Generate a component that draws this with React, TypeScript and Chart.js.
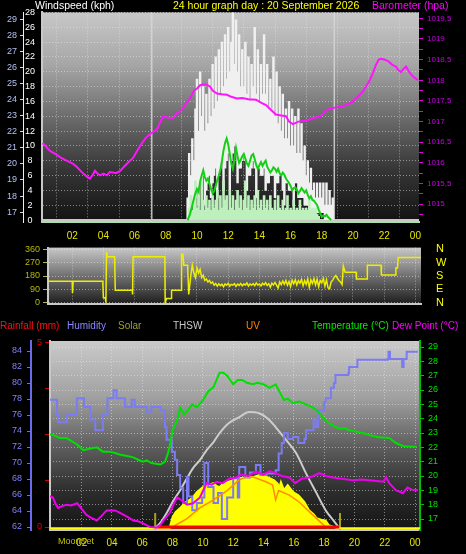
import React, { useEffect, useRef } from 'react';
import { Chart, registerables } from 'chart.js';

Chart.register(...registerables);

const FONT = '"Liberation Sans", Arial, Helvetica, sans-serif';
Chart.defaults.font.family = FONT;
Chart.defaults.font.size = 9;

// ---------------- DATA ----------------
const hourTicks = [2, 4, 6, 8, 10, 12, 14, 16, 18, 20, 22, 24];
const hourLabels = ['02', '04', '06', '08', '10', '12', '14', '16', '18', '20', '22', '00'];

const windTicks = [0, 2, 4, 6, 8, 10, 12, 14, 16, 18, 20, 22, 24, 26, 28];
const tempTicks = [17, 18, 19, 20, 21, 22, 23, 24, 25, 26, 27, 28, 29];
const baroTicks = [1014.75, 1015, 1015.25, 1015.5, 1015.75, 1016, 1016.25, 1016.5, 1016.75, 1017, 1017.25, 1017.5, 1017.75, 1018, 1018.25, 1018.5, 1018.75, 1019, 1019.25, 1019.5];
const baroLabels = ['', '1015', '', '1015,5', '', '1016', '', '1016,5', '', '1017', '', '1017,5', '', '1018', '', '1018,5', '', '1019', '', '1019,5'];
const dirTicks = [0, 90, 180, 270, 360];
const dirCompass = ['N', 'E', 'S', 'W', 'N'];
const humTicks = [62, 64, 66, 68, 70, 72, 74, 76, 78, 80, 82, 84];
const rainTicks = [0, 1.25, 2.5, 3.75, 5];
const rainLabels = ['0', '', '', '', '5'];

const sunLinesTop = [7.1, 18.8];
const sunMarksBottom = [6.85, 19.05];

// [hour, low kph, high kph] – gust range in each sample column
const gustRanges: [number, number, number][] = [
  [9.4, 0, 3], [9.5, 1, 9], [9.6, 2, 6], [9.7, 2, 11], [9.8, 3, 8], [9.9, 3, 15], [10.0, 4, 19], [10.1, 2, 12], [10.2, 5, 20], [10.3, 5, 14],
  [10.4, 6, 18], [10.5, 2, 12], [10.6, 4, 17], [10.7, 5, 13], [10.8, 6, 19], [10.9, 3, 14], [11.0, 5, 21], [11.1, 6, 15], [11.2, 7, 22], [11.3, 3, 16],
  [11.4, 6, 23], [11.5, 7, 17], [11.6, 8, 24], [11.7, 4, 18], [11.8, 7, 25], [11.9, 8, 19], [12.0, 9, 26], [12.1, 4, 20], [12.2, 8, 24], [12.3, 9, 28],
  [12.4, 10, 21], [12.5, 9, 27], [12.6, 5, 20], [12.7, 7, 25], [12.8, 7, 18], [12.9, 8, 23], [13.0, 9, 18], [13.1, 8, 24], [13.2, 4, 17], [13.3, 6, 22],
  [13.4, 6, 16], [13.5, 7, 21], [13.6, 8, 18], [13.7, 7, 26], [13.8, 3, 17], [13.9, 7, 23], [14.0, 7, 16], [14.1, 6, 21], [14.2, 6, 17], [14.3, 7, 25],
  [14.4, 4, 17], [14.5, 5, 21], [14.6, 5, 15], [14.7, 6, 19], [14.8, 6, 15], [14.9, 6, 22], [15.0, 3, 14], [15.1, 5, 20], [15.2, 5, 13], [15.3, 6, 18],
  [15.4, 6, 12], [15.5, 4, 17], [15.6, 2, 11], [15.7, 5, 15], [15.8, 5, 11], [15.9, 4, 16], [16.0, 4, 10], [16.1, 4, 15], [16.2, 2, 10], [16.3, 5, 14],
  [16.4, 5, 9], [16.5, 3, 15], [16.6, 3, 9], [16.7, 3, 13], [16.8, 3, 8], [16.9, 2, 10], [17.0, 2, 6], [17.1, 2, 8], [17.2, 1, 5], [17.3, 1, 7],
  [17.4, 1, 4], [17.5, 1, 5], [17.6, 1, 3], [17.7, 1, 5], [17.8, 1, 3], [17.9, 1, 5], [18.0, 1, 3], [18.1, 1, 5], [18.2, 0, 2], [18.3, 0, 5],
  [18.4, 0, 2], [18.5, 0, 4], [18.6, 0, 2], [18.7, 0, 3],
];

const windSpeedSeries: [number, number][] = [
  [9.5, 1.6], [9.6, 3.3], [9.7, 1.3], [9.8, 2.7], [9.9, 5.3], [10.0, 1.6], [10.1, 3.3], [10.2, 1.3], [10.3, 5.3], [10.4, 2.7],
  [10.5, 1.3], [10.6, 3.3], [10.7, 1.6], [10.8, 2.7], [10.9, 1.3], [11.0, 3.3], [11.1, 1.6], [11.2, 2.7], [11.3, 4.0], [11.4, 1.3],
  [11.5, 3.3], [11.6, 1.6], [11.7, 5.3], [11.8, 2.7], [11.9, 3.3], [12.0, 1.3], [12.1, 4.0], [12.2, 1.6], [12.3, 3.3], [12.4, 1.3],
  [12.5, 2.7], [12.6, 4.0], [12.7, 1.6], [12.8, 3.3], [12.9, 1.3], [13.0, 2.7], [13.1, 5.3], [13.2, 1.6], [13.3, 3.3], [13.4, 1.3],
  [13.5, 2.7], [13.6, 1.6], [13.7, 3.3], [13.8, 1.3], [13.9, 4.0], [14.0, 1.6], [14.1, 2.7], [14.2, 1.3], [14.3, 3.3], [14.4, 1.6],
  [14.5, 2.7], [14.6, 1.3], [14.7, 3.3], [14.8, 1.6], [14.9, 1.3], [15.0, 2.7], [15.1, 1.3], [15.2, 3.3], [15.3, 1.6], [15.4, 1.3],
  [15.5, 2.7], [15.6, 1.3], [15.7, 1.6], [15.8, 3.3], [15.9, 1.3], [16.0, 1.6], [16.1, 1.3], [16.2, 2.7], [16.3, 1.3], [16.4, 1.6],
  [16.5, 1.3], [16.6, 2.7], [16.7, 1.3], [16.8, 1.6], [16.9, 1.3], [17.0, 1.6], [17.1, 1.3], [17.2, 2.7], [17.3, 1.3], [17.4, 1.6],
  [17.5, 1.3], [17.6, 1.6], [17.7, 0.8], [17.8, 0.5],
];

const avgWindSeries: [number, number][] = [
  [9.4, 0], [9.55, 0.8], [9.7, 2.0], [9.85, 3.3], [10.0, 4.2], [10.1, 3.8], [10.2, 5.2], [10.3, 6.0], [10.4, 6.7], [10.5, 5.8],
  [10.6, 5.3], [10.7, 5.6], [10.8, 4.9], [10.9, 4.2], [11.0, 3.6], [11.1, 3.9], [11.2, 4.6], [11.3, 5.4], [11.4, 6.0], [11.5, 6.8],
  [11.6, 8.0], [11.7, 9.4], [11.8, 10.4], [11.9, 11.0], [12.0, 10.2], [12.1, 8.9], [12.2, 7.6], [12.3, 6.9], [12.4, 8.2], [12.5, 9.7],
  [12.6, 8.6], [12.7, 7.7], [12.8, 8.1], [12.9, 8.6], [13.0, 8.9], [13.1, 8.3], [13.2, 7.6], [13.3, 7.3], [13.4, 8.0], [13.5, 8.7],
  [13.6, 8.9], [13.7, 8.2], [13.8, 7.4], [13.9, 6.9], [14.0, 7.4], [14.1, 7.8], [14.2, 7.3], [14.3, 7.7], [14.4, 8.0], [14.5, 7.2],
  [14.6, 6.8], [14.7, 6.4], [14.8, 6.7], [14.9, 7.1], [15.0, 6.9], [15.1, 6.5], [15.2, 6.9], [15.3, 6.3], [15.4, 6.0], [15.5, 6.4],
  [15.6, 6.1], [15.7, 5.6], [15.8, 5.3], [15.9, 5.0], [16.0, 4.6], [16.1, 4.0], [16.2, 4.3], [16.3, 4.4], [16.4, 4.1], [16.5, 3.6],
  [16.6, 3.9], [16.7, 4.3], [16.8, 4.0], [16.9, 3.7], [17.0, 4.0], [17.1, 3.4], [17.2, 2.9], [17.3, 3.2], [17.4, 2.7], [17.5, 2.6],
  [17.6, 2.3], [17.7, 2.0], [17.8, 1.4], [17.9, 0.9], [18.0, 0.4], [18.1, 0.6], [18.2, 0.5], [18.3, 0.7], [18.4, 0.4], [18.5, 0.2],
  [18.6, 0],
];

// [hour, hPa]
const baroSeries: [number, number][] = [
  [0.1, 1016.48], [0.26, 1016.42], [0.58, 1016.29], [1.0, 1016.2], [1.3, 1016.12], [1.67, 1016.05], [2.05, 1015.98], [2.3, 1015.9],
  [2.63, 1015.77], [2.9, 1015.68], [3.14, 1015.62], [3.3, 1015.7], [3.46, 1015.81], [3.6, 1015.75], [3.78, 1015.7], [4.0, 1015.74],
  [4.23, 1015.7], [4.4, 1015.78], [4.62, 1015.77], [4.8, 1015.75], [5.06, 1015.8], [5.3, 1015.9], [5.51, 1015.98], [5.7, 1016.05],
  [5.9, 1016.12], [6.1, 1016.25], [6.35, 1016.41], [6.7, 1016.6], [6.99, 1016.7], [7.2, 1016.75], [7.44, 1016.82], [7.6, 1016.95],
  [7.82, 1017.13], [8.1, 1017.1], [8.46, 1017.08], [8.7, 1017.2], [8.91, 1017.25], [9.1, 1017.32], [9.3, 1017.45], [9.55, 1017.56],
  [9.8, 1017.75], [10.0, 1017.8], [10.2, 1017.88], [10.38, 1017.9], [10.6, 1017.9], [10.83, 1017.85], [11.0, 1017.75], [11.28, 1017.68],
  [11.6, 1017.66], [11.92, 1017.65], [12.2, 1017.6], [12.56, 1017.56], [12.9, 1017.57], [13.3, 1017.54], [13.78, 1017.53], [14.1, 1017.46],
  [14.42, 1017.4], [14.7, 1017.3], [15.06, 1017.17], [15.4, 1017.15], [15.7, 1017.13], [15.9, 1017.0], [16.15, 1016.94], [16.5, 1017.0],
  [16.9, 1017.02], [17.2, 1017.05], [17.44, 1017.08], [17.8, 1017.12], [18.0, 1017.15], [18.27, 1017.28], [18.6, 1017.32], [19.0, 1017.35],
  [19.36, 1017.37], [19.7, 1017.43], [20.0, 1017.49], [20.3, 1017.6], [20.64, 1017.73], [21.03, 1017.97], [21.25, 1018.15], [21.47, 1018.37],
  [21.65, 1018.5], [21.8, 1018.52], [22.05, 1018.5], [22.3, 1018.45], [22.5, 1018.38], [22.76, 1018.33], [22.9, 1018.25], [23.08, 1018.2],
  [23.25, 1018.28], [23.4, 1018.33], [23.6, 1018.2], [23.85, 1018.09], [24.17, 1018.0],
];

// [hour, degrees]
const windDirSeries: [number, number][] = [
  [0.45, 144], [2.0, 144], [2.02, 66], [2.06, 144], [3.96, 144], [4.0, 34], [4.12, 34], [4.16, 0], [4.2, 341], [4.25, 309],
  [4.72, 309], [4.76, 84], [5.85, 84], [5.87, 56], [5.9, 309], [7.94, 309], [7.96, 0], [8.05, 28], [8.35, 28], [8.37, 84],
  [8.98, 84], [9.01, 326], [9.1, 326], [9.15, 253], [9.4, 253], [9.47, 56], [9.6, 180], [9.7, 253], [9.8, 200], [9.9, 169],
  [10.0, 234], [10.1, 200], [10.2, 225], [10.3, 169], [10.4, 185], [10.5, 150], [10.6, 160], [10.7, 140], [10.8, 150], [10.9, 131],
  [11.0, 140], [11.1, 118], [11.2, 130], [11.3, 112], [11.4, 128], [11.5, 115], [11.6, 125], [11.7, 108], [11.8, 127], [11.9, 118],
  [12.0, 131], [12.1, 112], [12.2, 124], [12.3, 119], [12.4, 128], [12.5, 110], [12.6, 125], [12.7, 117], [12.8, 130], [12.9, 114],
  [13.0, 126], [13.1, 120], [13.2, 133], [13.3, 112], [13.4, 127], [13.5, 118], [13.6, 129], [13.7, 115], [13.8, 134], [13.9, 119],
  [14.0, 126], [14.1, 113], [14.2, 131], [14.3, 121], [14.4, 135], [14.5, 116], [14.6, 129], [14.7, 104], [14.8, 132], [14.9, 120],
  [15.0, 137], [15.1, 118], [15.2, 99], [15.3, 140], [15.4, 122], [15.5, 146], [15.6, 125], [15.7, 150], [15.8, 118], [15.9, 143],
  [16.0, 108], [16.1, 152], [16.2, 128], [16.3, 155], [16.4, 120], [16.5, 148], [16.6, 132], [16.7, 157], [16.8, 115], [16.9, 150],
  [17.0, 125], [17.1, 160], [17.2, 104], [17.3, 155], [17.4, 130], [17.5, 162], [17.6, 120], [17.7, 158], [17.8, 108], [17.9, 150],
  [18.0, 135], [18.1, 163], [18.2, 112], [18.3, 155], [18.4, 100], [18.5, 94], [18.6, 140], [18.7, 152], [18.8, 172], [18.9, 183],
  [19.0, 165], [19.1, 150], [19.2, 140], [19.3, 122], [19.38, 247], [19.5, 206], [20.2, 206], [20.22, 160], [20.9, 160], [20.92, 253],
  [21.8, 253], [21.82, 186], [22.7, 186], [22.75, 234], [22.85, 234], [22.9, 304], [24.36, 304],
];

// [hour, %]
const humiditySeries: [number, number][] = [
  [-0.09, 77.9], [0.3, 77.9], [0.37, 76], [0.45, 75.1], [1.0, 75.1], [1.02, 76], [1.56, 76], [1.68, 78.1], [2.1, 78.1], [2.15, 77],
  [2.4, 77], [2.55, 75.4], [2.9, 74.1], [3.2, 74.1], [3.4, 76], [3.7, 78.1], [4.1, 79.1], [4.3, 78.1], [4.85, 77], [5.3, 77.9],
  [5.5, 77], [6.05, 77], [6.3, 76.4], [6.6, 77], [7.2, 76.6], [7.4, 76.6], [7.5, 74.5], [7.6, 72.9], [7.95, 71.4], [8.15, 70.4],
  [8.3, 68.5], [8.5, 66.9], [8.7, 65], [8.95, 68.25], [9.05, 65.8], [9.3, 64.1], [9.6, 65], [9.95, 65.7], [10.1, 70], [10.35, 67],
  [10.7, 65], [11.0, 66.25], [11.25, 63], [11.6, 65.7], [12.0, 68.1], [12.3, 65.7], [12.4, 69.5], [12.8, 68.2], [13.1, 68.8], [13.5, 69.75],
  [13.8, 68.5], [14.2, 68.7], [14.8, 69.1], [15.0, 71.2], [15.2, 72.5], [15.35, 73.75], [15.6, 73], [15.95, 73.25], [16.3, 72.5], [16.7, 73],
  [16.8, 74.1], [17.3, 75.4], [17.45, 74.5], [17.6, 76.6], [18.0, 77.6], [18.1, 78.1], [18.45, 79.4], [18.65, 80], [18.75, 81], [19.6, 81.25],
  [19.65, 82], [20.2, 82.9], [22.2, 83], [22.25, 83.9], [22.35, 83], [23.1, 83], [23.15, 82], [23.25, 83], [23.45, 83.9], [24.2, 83.9],
];

// [hour, °C]
const temperatureSeries: [number, number][] = [
  [-0.09, 22.9], [0.1, 22.87], [0.55, 22.66], [1.0, 22.66], [1.3, 22.45], [1.7, 22.2], [2.1, 21.8], [2.5, 21.9], [3.0, 22.0], [3.4, 21.7],
  [3.85, 21.7], [4.2, 21.6], [4.5, 21.5], [5.0, 21.4], [5.4, 21.3], [5.8, 21.1], [6.05, 21.0], [6.3, 21.1], [6.6, 20.9], [7.2, 20.8],
  [7.5, 21.0], [7.7, 21.6], [7.85, 22.3], [8.0, 23.2], [8.3, 23.9], [8.5, 24.76], [8.75, 24.3], [8.95, 24.5], [9.3, 25.0], [9.6, 24.8],
  [10.0, 25.3], [10.35, 25.9], [10.7, 26.2], [10.9, 26.7], [11.1, 27.2], [11.35, 27.2], [11.6, 27.0], [11.8, 26.7], [12.0, 26.4], [12.3, 26.7],
  [12.6, 26.7], [12.9, 26.5], [13.3, 26.4], [13.6, 26.5], [14.0, 26.4], [14.4, 26.15], [14.8, 26.4], [15.1, 25.8], [15.35, 25.3], [15.6, 25.4],
  [15.95, 25.1], [16.35, 25.2], [16.8, 25.0], [17.2, 24.8], [17.5, 24.6], [17.9, 24.1], [18.3, 23.7], [18.8, 23.4], [19.1, 23.3], [19.4, 23.36],
  [19.6, 23.2], [20.1, 23.1], [20.75, 22.95], [21.2, 22.8], [21.6, 22.7], [22.3, 22.66], [22.75, 22.3], [23.2, 22.1], [23.6, 22.05], [24.1, 22.04],
];

const dewPointSeries: [number, number][] = [
  [-0.09, 18.6], [0.1, 18.5], [0.3, 18.0], [0.45, 17.77], [0.7, 17.9], [1.0, 18.0], [1.3, 17.95], [1.7, 18.1], [2.0, 17.7], [2.3, 17.3],
  [2.6, 17.1], [3.0, 16.9], [3.3, 17.2], [3.65, 17.6], [4.2, 17.6], [4.5, 17.45], [4.75, 17.3], [5.1, 17.1], [5.4, 16.9], [5.7, 16.85],
  [6.05, 16.7], [6.5, 16.45], [6.95, 16.4], [7.2, 16.6], [7.4, 16.9], [7.8, 17.4], [8.05, 18.0], [8.3, 18.5], [8.6, 18.3], [8.95, 18.0],
  [9.35, 18.1], [9.8, 18.5], [10.25, 19.5], [10.6, 19.4], [10.9, 19.6], [11.3, 19.5], [11.8, 19.85], [12.2, 19.9], [12.5, 20.1], [13.0, 20.0],
  [13.5, 20.3], [14.0, 20.1], [14.4, 20.35], [14.8, 20.2], [15.2, 20.0], [15.7, 19.9], [16.1, 19.5], [16.5, 19.8], [17.0, 19.9], [17.3, 20.0],
  [17.7, 20.2], [18.1, 20.0], [18.6, 19.9], [19.2, 19.8], [19.9, 19.7], [20.5, 19.75], [21.0, 19.7], [21.5, 19.65], [21.9, 19.6], [22.1, 19.9],
  [22.3, 19.5], [22.75, 19.0], [23.0, 18.9], [23.2, 18.8], [23.5, 19.2], [23.8, 19.05], [24.2, 19.0],
];

// [hour, W/m²]
const solarSeries: [number, number][] = [
  [-0.09, 0], [7.8, 0], [7.9, 30], [8.0, 59], [8.2, 85], [8.5, 107], [8.8, 134], [9.1, 150], [9.3, 160], [9.6, 192],
  [10.0, 219], [10.3, 230], [10.7, 240], [10.9, 225], [11.1, 219], [11.3, 235], [11.6, 246], [12.0, 256], [12.4, 267], [12.8, 270],
  [13.05, 272], [13.4, 275], [13.7, 283], [14.1, 278], [14.4, 267], [14.7, 256], [14.9, 240], [14.95, 192], [15.15, 246], [15.35, 203],
  [15.6, 230], [15.95, 192], [16.3, 176], [16.7, 139], [17.0, 96], [17.3, 75], [17.5, 53], [17.9, 43], [18.1, 40], [18.3, 16],
  [18.6, 8], [18.9, 0], [24.33, 0],
];

const thswSeries: [number, number][] = [
  [6.85, 0], [7.17, 27], [7.6, 80], [8.0, 139], [8.5, 203], [8.95, 267], [9.35, 321], [9.8, 363], [10.25, 417], [10.7, 460],
  [11.1, 508], [11.7, 561], [12.4, 593], [13.05, 620], [13.7, 614], [14.4, 577], [14.8, 540], [15.5, 470], [16.15, 401], [16.8, 294],
  [17.5, 187], [18.1, 96], [18.6, 43], [19.0, 0],
];

const uvSeries: [number, number][] = [
  [7.8, 0], [8.0, 0.05], [8.95, 0.5], [9.8, 1.07], [10.7, 1.5], [11.6, 2.0], [12.4, 2.57], [12.85, 2.73], [13.3, 2.73], [14.2, 2.46],
  [14.6, 2.3], [14.8, 1.5], [15.0, 2.0], [15.7, 1.76], [16.35, 1.39], [16.9, 0.96], [17.6, 0.43], [18.1, 0.05], [18.3, 0],
];

const rainSeries: [number, number][] = [[7.0, 0], [19.0, 0]];

// ---------------- HELPERS ----------------
const xy = (s: [number, number][]) => s.map(([x, y]) => ({ x, y }));
const xRange = (s: [number, number, number][]) => s.map(([x, lo, hi]) => ({ x, y: [lo, hi] }));
const fixedTicks = (vals: number[]) => (s: any) => { s.ticks = vals.map((v) => ({ value: v })); };
const fixW = (w: number) => (s: any) => { s.width = w; };
const fixH = (h: number) => (s: any) => { s.height = h; };
const labelFrom = (vals: number[], labels: string[]) => (v: any) => {
  const i = vals.indexOf(Number(v));
  return i >= 0 ? labels[i] : '';
};
const GRID = 'rgba(235,235,235,0.5)';
const DOT = [1, 2];
const FRAME = '#c8c8c8';

function makePanel(opts: {
  stops: [number, string][];
  vlines?: { value: number; color: string; width: number; len?: number }[];
  hline?: { axis: string; value: number; color: string; width: number };
}) {
  return {
    id: 'panel',
    beforeDraw(chart: any) {
      const { ctx, chartArea: a } = chart;
      const g = ctx.createLinearGradient(0, a.top, 0, a.bottom);
      opts.stops.forEach(([p, c]) => g.addColorStop(p, c));
      ctx.save();
      ctx.fillStyle = g;
      ctx.fillRect(a.left, a.top, a.right - a.left, a.bottom - a.top);
      ctx.restore();
    },
    beforeDatasetsDraw(chart: any) {
      const { ctx, chartArea: a, scales } = chart;
      ctx.save();
      (opts.vlines || []).forEach((l) => {
        const x = scales.x.getPixelForValue(l.value);
        ctx.strokeStyle = l.color;
        ctx.lineWidth = l.width;
        ctx.beginPath();
        ctx.moveTo(x, l.len ? a.bottom - l.len : a.top);
        ctx.lineTo(x, a.bottom);
        ctx.stroke();
      });
      if (opts.hline) {
        const y = scales[opts.hline.axis].getPixelForValue(opts.hline.value);
        ctx.strokeStyle = opts.hline.color;
        ctx.lineWidth = opts.hline.width;
        ctx.beginPath();
        ctx.moveTo(a.left, y);
        ctx.lineTo(a.right, y);
        ctx.stroke();
      }
      ctx.restore();
    },
  };
}

const baseOptions = {
  responsive: false,
  animation: false,
  devicePixelRatio: 1,
  plugins: { legend: { display: false }, tooltip: { enabled: false } },
  elements: { point: { radius: 0 }, line: { tension: 0 } },
};

// ---------------- CHART CONFIGS ----------------
function topChart(): any {
  return {
    type: 'line',
    data: {
      datasets: [
        { type: 'bar', label: 'Gust', data: xRange(gustRanges), yAxisID: 'wind', backgroundColor: '#f0f0f0', barThickness: 1.8, grouped: false, order: 10 },
        { type: 'bar', label: 'Wind speed', data: xy(windSpeedSeries), yAxisID: 'wind', backgroundColor: '#bdf0bd', barThickness: 2, grouped: false, order: 9 },
        { type: 'line', label: 'Average', data: xy(avgWindSeries), yAxisID: 'wind', borderColor: '#14d014', borderWidth: 2, order: 8 },
        { type: 'line', label: 'Barometer', data: xy(baroSeries), yAxisID: 'baro', borderColor: '#ff14ff', borderWidth: 2, order: 7 },
      ],
    },
    plugins: [makePanel({
      stops: [[0, '#c8c8c8'], [0.25, '#a6a6a6'], [0.5, '#6c6c6c'], [0.75, '#363636'], [1, '#121212']],
      vlines: sunLinesTop.map((v) => ({ value: v, color: 'rgba(215,215,215,0.85)', width: 1.5 })),
      hline: { axis: 'wind', value: 0, color: FRAME, width: 2 },
    })],
    options: {
      ...baseOptions,
      layout: { padding: { top: 10, left: 0, right: 0, bottom: 0 } },
      scales: {
        x: {
          type: 'linear', min: 0.064, max: 24.23, offset: false,
          afterBuildTicks: fixedTicks(hourTicks), afterFit: fixH(20),
          ticks: { color: '#e6e600', font: { size: 10 }, padding: 8, autoSkip: false, maxRotation: 0, callback: labelFrom(hourTicks, hourLabels) },
          grid: { color: GRID, drawTicks: false },
          border: { color: '#a8e0a8', width: 2, dash: DOT },
        },
        temp: {
          type: 'linear', position: 'left', weight: 2, min: 16.385, max: 29.43,
          afterBuildTicks: fixedTicks(tempTicks), afterFit: fixW(23),
          ticks: { color: '#b4c0f0', padding: 3, autoSkip: false },
          grid: { drawOnChartArea: false, tickLength: 3, tickColor: '#d8d8d8' },
          border: { color: '#f0f0f0', width: 1 },
        },
        wind: {
          type: 'linear', position: 'left', weight: 1, min: -0.267, max: 28,
          afterBuildTicks: fixedTicks(windTicks), afterFit: fixW(19),
          ticks: { color: '#ffffff', padding: 7, crossAlign: 'center', autoSkip: false },
          grid: { color: GRID, drawTicks: false },
          border: { color: FRAME, width: 2, dash: DOT },
        },
        baro: {
          type: 'linear', position: 'right', min: 1014.569, max: 1019.644,
          afterBuildTicks: fixedTicks(baroTicks), afterFit: fixW(47),
          ticks: { color: '#c400e0', font: { size: 8 }, padding: 4, autoSkip: false, callback: labelFrom(baroTicks, baroLabels) },
          grid: { drawOnChartArea: false, tickLength: 4, tickColor: '#e000e0' },
          border: { display: false },
        },
      },
    },
  };
}

function dirChart(): any {
  return {
    type: 'line',
    data: {
      datasets: [
        { label: 'Wind direction', data: xy(windDirSeries), yAxisID: 'y', borderColor: '#eeee00', borderWidth: 1.5 },
      ],
    },
    plugins: [makePanel({ stops: [[0, '#c8c8c8'], [0.5, '#707070'], [1, '#1c1c1c']] })],
    options: {
      ...baseOptions,
      layout: { padding: { top: 18, left: 0, right: 0, bottom: 14 } },
      scales: {
        x: {
          type: 'linear', min: 0.449, max: 24.36, offset: false,
          afterBuildTicks: fixedTicks(hourTicks), afterFit: fixH(0),
          ticks: { display: false },
          grid: { color: GRID, drawTicks: false },
          border: { color: FRAME, width: 2, dash: DOT },
        },
        y: {
          type: 'linear', position: 'left', min: -11.25, max: 371.25,
          afterBuildTicks: fixedTicks(dirTicks), afterFit: fixW(48),
          ticks: { color: '#b8b800', padding: 3, autoSkip: false },
          grid: { color: GRID, tickLength: 5, tickColor: '#b0b070' },
          border: { color: FRAME, width: 2, dash: DOT },
        },
        compass: {
          type: 'linear', position: 'right', min: -11.25, max: 371.25,
          afterBuildTicks: fixedTicks(dirTicks), afterFit: fixW(45),
          ticks: { color: '#ffff00', font: { size: 11 }, padding: 15, autoSkip: false, callback: labelFrom(dirTicks, dirCompass) },
          grid: { drawOnChartArea: false, drawTicks: false },
          border: { display: false },
        },
      },
    },
  };
}

function bottomChart(): any {
  return {
    type: 'line',
    data: {
      datasets: [
        { label: 'Solar', data: xy(solarSeries), yAxisID: 'solar', borderColor: '#ffff00', backgroundColor: '#ffff00', borderWidth: 2, fill: 'origin', order: 10 },
        { label: 'THSW', data: xy(thswSeries), yAxisID: 'solar', borderColor: '#cccccc', borderWidth: 2, cubicInterpolationMode: 'monotone', order: 9 },
        { label: 'Humidity', data: xy(humiditySeries), yAxisID: 'hum', borderColor: '#7c7cf2', borderWidth: 2, stepped: true, order: 8 },
        { label: 'UV', data: xy(uvSeries), yAxisID: 'uv', borderColor: '#ff8c00', borderWidth: 1.5, order: 7 },
        { label: 'Rainfall', data: xy(rainSeries), yAxisID: 'rain', borderColor: '#ff0000', borderWidth: 3, order: 6 },
        { label: 'Dew Point', data: xy(dewPointSeries), yAxisID: 'temp', borderColor: '#ee00ee', borderWidth: 2, order: 5 },
        { label: 'Temperature', data: xy(temperatureSeries), yAxisID: 'temp', borderColor: '#00e000', borderWidth: 2, order: 4 },
      ],
    },
    plugins: [makePanel({
      stops: [[0, '#cacaca'], [0.3, '#a0a0a0'], [0.55, '#606060'], [0.8, '#2c2c2c'], [1, '#141414']],
      vlines: sunMarksBottom.map((v) => ({ value: v, color: '#a8a020', width: 2, len: 17 })),
    })],
    options: {
      ...baseOptions,
      layout: { padding: { top: 23, left: 0, right: 0, bottom: 0 } },
      scales: {
        x: {
          type: 'linear', min: -0.092, max: 24.33, offset: false,
          afterBuildTicks: fixedTicks(hourTicks), afterFit: fixH(24),
          ticks: { color: '#e6e600', font: { size: 10 }, padding: 7, autoSkip: false, maxRotation: 0, callback: labelFrom(hourTicks, hourLabels) },
          grid: { color: GRID, drawTicks: false },
          border: { color: FRAME, width: 2, dash: DOT },
        },
        hum: {
          type: 'linear', position: 'left', weight: 2, min: 61.625, max: 85.25,
          afterBuildTicks: fixedTicks(humTicks), afterFit: fixW(31),
          ticks: { color: '#8080ff', padding: 5, autoSkip: false },
          grid: { drawOnChartArea: false, tickLength: 4, tickColor: '#7070f0' },
          border: { color: '#6a6aee', width: 2 },
        },
        rain: {
          type: 'linear', position: 'left', weight: 1, min: -0.0815, max: 5.054,
          afterBuildTicks: fixedTicks(rainTicks), afterFit: fixW(19),
          ticks: { color: '#e00000', padding: 3, autoSkip: false, callback: labelFrom(rainTicks, rainLabels) },
          grid: { drawOnChartArea: false, tickLength: 5, tickColor: '#d00000' },
          border: { color: FRAME, width: 2 },
        },
        temp: {
          type: 'linear', position: 'right', min: 16.233, max: 29.419,
          afterBuildTicks: fixedTicks(tempTicks), afterFit: fixW(46),
          ticks: { color: '#00e000', padding: 4, autoSkip: false },
          grid: { color: GRID, tickLength: 4, tickColor: '#00c000' },
          border: { color: '#00c000', width: 2, dash: DOT },
        },
        solar: { type: 'linear', display: false, min: -10, max: 1000 },
        uv: { type: 'linear', display: false, min: -0.11, max: 10 },
      },
    },
  };
}

// ---------------- COMPONENTS ----------------
function ChartBox({ top, height, build }: { top: number; height: number; build: () => any }) {
  const ref = useRef<HTMLCanvasElement>(null);
  useEffect(() => {
    const chart = new Chart(ref.current as HTMLCanvasElement, build());
    return () => chart.destroy();
  }, []);
  return (
    <canvas ref={ref} width={466} height={height}
      style={{ position: 'absolute', left: 0, top, width: 466, height, display: 'block' }} />
  );
}

function Txt({ x, y, color, size = 11, children }: { x: number; y: number; color: string; size?: number; children: React.ReactNode }) {
  return (
    <span style={{ position: 'absolute', left: x, top: y, color, fontSize: size, lineHeight: '12px', fontFamily: FONT, whiteSpace: 'nowrap' }}>
      {children}
    </span>
  );
}

export default function App() {
  return (
    <div style={{ position: 'absolute', left: 0, top: 0, width: 466, height: 554, background: '#000', overflow: 'hidden' }}>
      <ChartBox top={0} height={242} build={topChart} />
      <ChartBox top={226} height={100} build={dirChart} />
      <ChartBox top={318} height={236} build={bottomChart} />
      <Txt x={35} y={-1} color="#ffffff" size={10.5}>Windspeed (kph)</Txt>
      <Txt x={173} y={-1} color="#ffff00" size={10.5}>24 hour graph day : 20 September 2026</Txt>
      <Txt x={372} y={-1} color="#ff00ff" size={10.5}>Barometer (hpa)</Txt>
      <Txt x={0} y={320} color="#ff1010" size={10}>Rainfall (mm)</Txt>
      <Txt x={67} y={320} color="#8888ff" size={10}>Humidity</Txt>
      <Txt x={118} y={320} color="#a0a030" size={10}>Solar</Txt>
      <Txt x={173} y={320} color="#c8c8c8" size={10}>THSW</Txt>
      <Txt x={246} y={320} color="#ff8800" size={10}>UV</Txt>
      <Txt x={312} y={320} color="#00ee00" size={10}>Temperature (°C)</Txt>
      <Txt x={392} y={320} color="#ff00ff" size={10}>Dew Point (°C)</Txt>
      <Txt x={58} y={535} color="#c0c000" size={9}>MoonSet</Txt>
    </div>
  );
}
